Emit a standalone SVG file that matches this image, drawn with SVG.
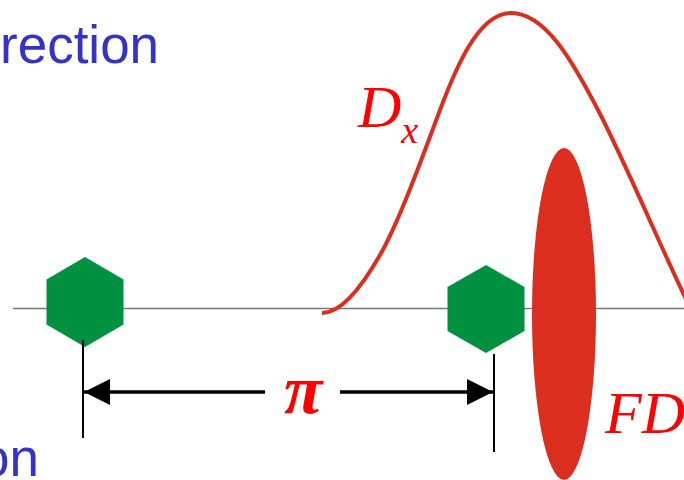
<svg xmlns="http://www.w3.org/2000/svg" width="684" height="480" viewBox="0 0 684 480">
<defs>
<style>
.blue{font-family:"Liberation Sans",Arial,sans-serif;font-size:53px;fill:#3333CC}
.math{font-family:"Liberation Serif","Times New Roman",serif;font-style:italic;fill:#FF0000}
.hex{fill:#009140}
.tick{stroke:#000;stroke-width:2;fill:none}
.dim{stroke:#000;stroke-width:3.5;fill:none}
</style>
<marker id="ah" viewBox="0 0 26 26" refX="26" refY="13" markerWidth="26" markerHeight="26" markerUnits="userSpaceOnUse" orient="auto">
<path d="M0,0 L26,13 L0,26 Z" fill="#000"/>
</marker>
</defs>
<rect width="684" height="480" fill="#fff"/>
<g id="axis">
<line x1="13" y1="308.5" x2="684" y2="308.5" stroke="#777" stroke-width="1.5"/>
</g>
<g id="distribution">
<path d="M322,313 C340,313 360,290 380,255 C400,220 425,150 440,110 C455,70 478,13 511,13 C545,13 572,60 598,110 C625,162 660,245 684,295 L692,312" fill="none" stroke="#DC2E1E" stroke-width="4"/>
</g>
<g id="fd-ellipse">
<ellipse cx="564" cy="314" rx="32" ry="166" fill="#DC2E1E"/>
</g>
<g id="hex-left">
<polygon class="hex" points="85,257 123.5,279.5 123.5,324.5 85,347 46.5,324.5 46.5,279.5"/>
</g>
<g id="hex-right">
<polygon class="hex" points="486,265 524.5,287 524.5,331 486,353 447.5,331 447.5,287"/>
</g>
<g id="connectors">
<line class="tick" x1="83" y1="340" x2="83" y2="438"/>
<line class="tick" x1="494" y1="354" x2="494" y2="452"/>
<line class="dim" x1="265" y1="392" x2="84" y2="392" marker-end="url(#ah)"/>
<line class="dim" x1="340" y1="392" x2="493" y2="392" marker-end="url(#ah)"/>
</g>
<g id="labels">
<text class="blue" x="0" y="63">rection</text>
<text class="blue" x="39" y="476" text-anchor="end">on</text>
<text class="math" x="358" y="127" font-size="60">D<tspan font-size="38" dy="16">x</tspan></text>
<text class="math" x="303" y="413" text-anchor="middle" font-size="70" font-weight="bold">π</text>
<text class="math" x="605" y="433" font-size="60">FD</text>
</g>
</svg>
